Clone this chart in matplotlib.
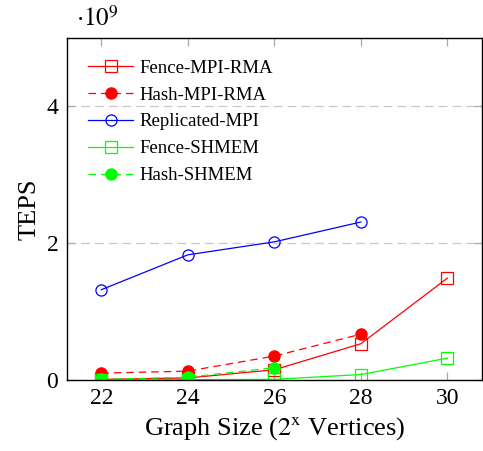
import matplotlib.pyplot as plt

plt.rcParams['font.family'] = ['Liberation Serif', 'DejaVu Serif']
plt.rcParams['mathtext.fontset'] = 'stix'

# graph size exponents and TEPS (units of 1e9)
sizes = [22, 24, 26, 28, 30]
fence_mpi = [0.01, 0.03, 0.15, 0.53, 1.49]
hash_mpi = [0.10, 0.13, 0.35, 0.67]
replicated_mpi = [1.32, 1.83, 2.02, 2.31]
fence_shmem = [0.0, 0.005, 0.01, 0.08, 0.32]
hash_shmem = [0.01, 0.04, 0.18]

fig = plt.figure(figsize=(4.83, 4.51), dpi=100)
ax = fig.add_axes([0.138, 0.1574, 0.860, 0.7583])

dash = (0, (6, 4))
ax.plot(sizes, fence_mpi, color='red', lw=0.9, marker='s', ms=8,
        mfc='none', mew=0.9, label='Fence-MPI-RMA')
ax.plot(sizes[:4], hash_mpi, color='red', lw=0.9, ls=dash, marker='o', ms=8,
        label='Hash-MPI-RMA')
ax.plot(sizes[:4], replicated_mpi, color='blue', lw=0.9, marker='o', ms=8,
        mfc='none', mew=0.9, label='Replicated-MPI')
ax.plot(sizes, fence_shmem, color='#00ff00', lw=0.9, marker='s', ms=8,
        mfc='none', mew=0.9, label='Fence-SHMEM')
ax.plot(sizes[:3], hash_shmem, color='#00ff00', lw=0.9, ls=dash, marker='o', ms=8,
        label='Hash-SHMEM')

ax.set_xlim(21.2, 30.8)
ax.set_ylim(0, 5)
ax.set_xticks(sizes)
ax.set_yticks([0, 2, 4])
ax.tick_params(direction='in', length=6, width=0.9, color='#aaaaaa',
               top=True, right=True, labelsize=17, pad=6)
for y in [2, 4]:
    ax.axhline(y, color='#c8c8c8', lw=0.9, ls=(0, (7, 4)), zorder=0)
for s in ax.spines.values():
    s.set_linewidth(1.0)

ax.set_xlabel('Graph Size ($2^{\\mathrm{x}}$ Vertices)', fontsize=19, labelpad=4)
ax.set_ylabel('TEPS', fontsize=19, labelpad=4)
fig.text(97 / 483, 1 - 18 / 451, r'$\cdot10^9$', fontsize=18,
         ha='center', va='center')

leg = ax.legend(loc='upper left', frameon=False, fontsize=13.5, handlelength=2.4,
                borderaxespad=0.75, labelspacing=0.52, handletextpad=0.35)

fig.savefig('out.png', dpi=100)
